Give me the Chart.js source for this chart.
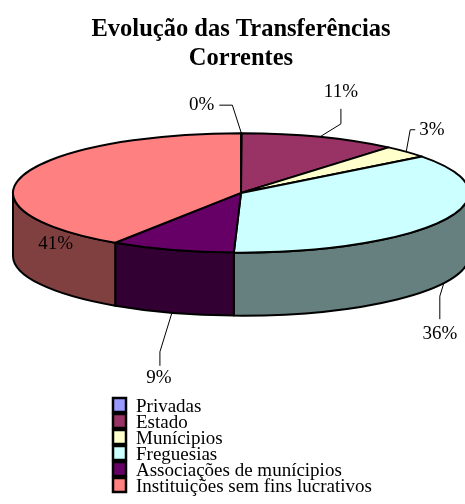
<!DOCTYPE html>
<html>
<head>
<meta charset="utf-8">
<script src="https://cdn.jsdelivr.net/npm/chart.js@4.4.1/dist/chart.umd.min.js"></script>
<style>
  html, body { margin: 0; padding: 0; background: #fff; overflow: hidden; }
  canvas { display: block; }
</style>
</head>
<body>
<canvas id="chart" width="465" height="504"></canvas>
<script>
// chart data
const titleLines = ['Evolução das Transferências', 'Correntes'];
const categories = [
    'Privadas',
    'Estado',
    'Munícipios',
    'Freguesias',
    'Associações de munícipios',
    'Instituições sem fins lucrativos'
];
const shares = [0.05, 11.15, 3.4, 35.9, 8.8, 40.7]; // % of total
const sliceColors = ['#9999FF', '#993366', '#FFFFCC', '#CCFFFF', '#660066', '#FF8080'];

const FONT = '"Liberation Serif", "Times New Roman", serif';
const TILT = 0.262;  // vertical squash of the top ellipse
const DEPTH = 63;    // thickness of the pie

// where each percentage label sits, relative to the slice's rim point
const labelLayout = [
    {leader: [[-9, -28], [-22, -28]], text: [-27, -28], align: 'right'},
    {leader: [[21, -13], [21, -28]], text: [21, -45], align: 'center'},
    {leader: [[4, -22], [9, -22]], text: [13, -22], align: 'left'},
    {leader: [[-4, 13], [-4, 36]], text: [-4, 51], align: 'center'},
    {leader: [[-12, 39], [-12, 53]], text: [-13, 65], align: 'center'},
    {leader: [], text: [33, 68], align: 'center'}
];

function darker(hex, f) {
    const n = parseInt(hex.slice(1), 16);
    const r = Math.round(((n >> 16) & 255) * f);
    const g = Math.round(((n >> 8) & 255) * f);
    const b = Math.round((n & 255) * f);
    return `rgb(${r},${g},${b})`;
}

function geometry(chart) {
    const arcs = chart.getDatasetMeta(0).data;
    const rx = arcs[0].outerRadius;
    return {arcs, cx: arcs[0].x, cy: arcs[0].y, rx, ry: rx * TILT};
}

// draws the slices as a tilted 3D pie instead of the flat one
const pie3d = {
    id: 'pie3d',
    beforeDatasetsDraw(chart) {
        const ctx = chart.ctx;
        const {arcs, cx, cy, rx, ry} = geometry(chart);
        ctx.save();
        ctx.lineWidth = 2;
        ctx.strokeStyle = '#000';
        ctx.lineJoin = 'round';

        // front walls (only the part facing us, angles 0..PI)
        arcs.forEach(arc => {
            const s = Math.max(arc.startAngle, 0);
            const e = Math.min(arc.endAngle, Math.PI);
            if (e <= s) return;
            ctx.beginPath();
            ctx.ellipse(cx, cy, rx, ry, 0, s, e);
            ctx.lineTo(cx + rx * Math.cos(e), cy + DEPTH + ry * Math.sin(e));
            ctx.ellipse(cx, cy + DEPTH, rx, ry, 0, e, s, true);
            ctx.closePath();
            ctx.fillStyle = darker(arc.options.backgroundColor, 0.5);
            ctx.fill();
            ctx.stroke();
        });

        // top face
        arcs.forEach(arc => {
            ctx.beginPath();
            ctx.moveTo(cx, cy);
            ctx.ellipse(cx, cy, rx, ry, 0, arc.startAngle, arc.endAngle);
            ctx.closePath();
            ctx.fillStyle = arc.options.backgroundColor;
            ctx.fill();
            ctx.stroke();
        });
        ctx.restore();
        return false;
    },
    afterDraw(chart) {
        const ctx = chart.ctx;
        const {arcs, cx, cy, rx, ry} = geometry(chart);
        const data = chart.data.datasets[0].data;
        const total = data.reduce((a, b) => a + b, 0);

        ctx.save();
        ctx.font = `19px ${FONT}`;
        ctx.fillStyle = '#000';
        ctx.strokeStyle = '#000';
        ctx.lineWidth = 1;
        ctx.textBaseline = 'middle';

        // percentage labels with leader lines
        arcs.forEach((arc, i) => {
            const mid = (arc.startAngle + arc.endAngle) / 2;
            const ax = cx + rx * Math.cos(mid);
            const ay = cy + ry * Math.sin(mid) + (Math.sin(mid) > 0 ? DEPTH : 0);
            const lay = labelLayout[i];
            if (lay.leader.length) {
                ctx.beginPath();
                ctx.moveTo(ax, ay);
                lay.leader.forEach(p => ctx.lineTo(ax + p[0], ay + p[1]));
                ctx.stroke();
            }
            ctx.textAlign = lay.align;
            const pct = Math.round(data[i] / total * 100) + '%';
            ctx.fillText(pct, ax + lay.text[0], ay + lay.text[1]);
        });

        // legend, one entry per row
        const lx = 112, ly = 405, row = 16;
        ctx.textAlign = 'left';
        ctx.textBaseline = 'alphabetic';
        ctx.lineWidth = 2.5;
        chart.data.labels.forEach((label, i) => {
            const y = ly + i * row;
            ctx.fillStyle = sliceColors[i];
            ctx.fillRect(lx + 1, y - 7, 13, 14);
            ctx.strokeRect(lx + 1, y - 7, 13, 14);
            ctx.fillStyle = '#000';
            ctx.fillText(label, lx + 24, y + 7);
        });
        ctx.restore();
    }
};

new Chart(document.getElementById('chart'), {
    type: 'pie',
    data: {
        labels: categories,
        datasets: [{
            data: shares,
            backgroundColor: sliceColors,
            borderWidth: 0
        }]
    },
    options: {
        responsive: false,
        animation: false,
        devicePixelRatio: 1,
        events: [],
        radius: 228,
        layout: {
            padding: {left: 17, right: 0, top: 0, bottom: 197}
        },
        plugins: {
            legend: {display: false},
            tooltip: {enabled: false},
            title: {
                display: true,
                text: titleLines,
                color: '#000',
                font: {family: FONT, size: 24.5, weight: 'bold', lineHeight: 1.2},
                padding: {top: 15, bottom: 5}
            }
        }
    },
    plugins: [pie3d]
});
</script>
</body>
</html>
